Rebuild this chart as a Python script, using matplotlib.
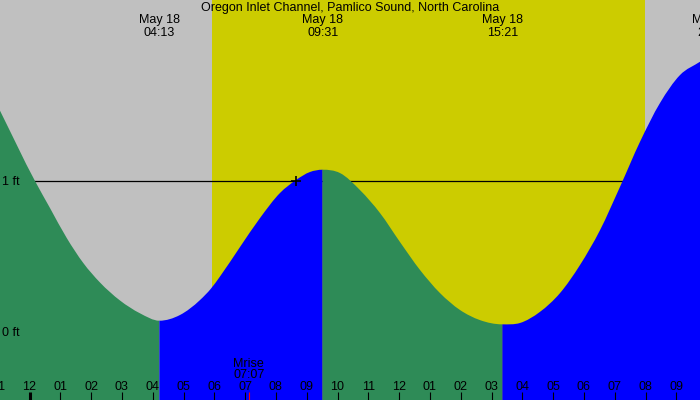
import numpy as np
import matplotlib
matplotlib.use("Agg")
import matplotlib.pyplot as plt
import matplotlib.transforms as mtransforms
from matplotlib.path import Path
from matplotlib.patches import PathPatch

plt.rcParams['font.family'] = ['Liberation Sans', 'DejaVu Sans']

# tide height (ft), time in hours from midnight May 18
tide_hours = [-0.958, 0.179, 0.666, 1.208, 1.747, 2.289, 2.938, 3.588, 4.217,
              4.886, 5.536, 5.893, 6.185, 6.834, 7.484, 8.133, 8.653, 9.107,
              9.517, 10.081, 10.731, 11.380, 12.029, 12.679, 13.328, 13.977,
              14.627, 15.350, 15.925, 16.575, 17.224, 17.873, 18.523, 19.172,
              19.821, 20.471, 21.120, 21.769]
tide_ft = [1.466, 1.000, 0.821, 0.623, 0.457, 0.328, 0.209, 0.124, 0.075,
           0.113, 0.212, 0.288, 0.368, 0.563, 0.755, 0.921, 1.007, 1.060,
           1.075, 1.053, 0.940, 0.788, 0.596, 0.411, 0.258, 0.146,
           0.079, 0.051, 0.060, 0.134, 0.258, 0.444, 0.675, 0.962,
           1.260, 1.517, 1.702, 1.790]

# high / low events
event_hours = [4.217, 9.517, 15.350, 22.183]
event_types = ['L', 'H', 'L', 'H']
event_times = ['04:13', '09:31', '15:21', '22:11']
event_date = 'May 18'

sunrise, sunset = 5.925, 19.984
moonrise, moonrise_label = 7.117, '07:07'
marker_hour, marker_ft = 8.653, 1.0

tick_hours = list(range(-1, 22))
ref_levels = [0, 1]

xmin, xmax = -0.958, 21.769
ymin, ymax = -0.450, 2.199

GRAY = '#c0c0c0'
YELLOW = '#cccc00'
GREEN = '#2e8b57'
BLUE = '#0000ff'

t = np.array(tide_hours)
h = np.array(tide_ft)

# slopes for smooth bezier drawing, flat at highs and lows
slope = np.gradient(h, t)
for eh in event_hours:
    slope[np.isclose(t, eh)] = 0.0


def water_patch(i0, i1, color):
    verts = [(t[i0], ymin - 1), (t[i0], h[i0])]
    codes = [Path.MOVETO, Path.LINETO]
    for i in range(i0, i1):
        dt = t[i + 1] - t[i]
        verts += [(t[i] + dt / 3, h[i] + slope[i] * dt / 3),
                  (t[i + 1] - dt / 3, h[i + 1] - slope[i + 1] * dt / 3),
                  (t[i + 1], h[i + 1])]
        codes += [Path.CURVE4] * 3
    verts += [(t[i1], ymin - 1), (t[i0], ymin - 1)]
    codes += [Path.LINETO, Path.CLOSEPOLY]
    return PathPatch(Path(verts, codes), facecolor=color, lw=0, zorder=3)


fig = plt.figure(figsize=(7, 4), dpi=100)
ax = fig.add_axes([0, 0, 1, 1])
ax.set_xlim(xmin, xmax)
ax.set_ylim(ymin, ymax)
ax.axis('off')
fig.patch.set_facecolor(GRAY)

ax.axvspan(xmin - 1, xmax + 1, color=GRAY, zorder=0)
ax.axvspan(sunrise, sunset, color=YELLOW, lw=0, zorder=1)

# 1 ft line sits behind the water
ax.axhline(1.0, color='black', lw=0.9, zorder=2)

# falling = green, rising = blue
i0 = 0
for eh, et in zip(event_hours, event_types):
    idx = np.where(t <= eh + 1e-9)[0]
    i1 = idx[-1]
    if i1 > i0:
        ax.add_patch(water_patch(i0, i1, GREEN if et == 'L' else BLUE))
    i0 = i1

ax.plot([marker_hour], [marker_ft], marker='+', color='black',
        markersize=7, mew=1.2, zorder=5)

trans = mtransforms.blended_transform_factory(ax.transData, ax.transAxes)

ax.text(0.5, 1 - 11 / 400, 'Oregon Inlet Channel, Pamlico Sound, North Carolina',
        transform=ax.transAxes, ha='center', va='baseline', fontsize=9, zorder=6)
for eh, tm in zip(event_hours, event_times):
    ax.text(eh, 1 - 23.5 / 400, event_date, transform=trans, ha='center',
            va='baseline', fontsize=9, zorder=6)
    ax.text(eh, 1 - 36 / 400, tm, transform=trans, ha='center',
            va='baseline', fontsize=9, zorder=6)

for lv in ref_levels:
    ax.text(xmin + 0.08, lv - 4 / 151, f'{lv} ft', ha='left', va='baseline',
            fontsize=9, zorder=6)

for th in tick_hours:
    lab = f'{(th % 12) or 12:02d}'
    ax.text(th, 1 - 389.5 / 400, lab, transform=trans, ha='center',
            va='baseline', fontsize=9, zorder=6)
    ax.plot([th, th], [0, 8 / 400], transform=trans, color='black',
            lw=2.2 if th == 0 else 0.8, solid_capstyle='butt', zorder=6)

ax.plot([moonrise, moonrise], [0, 8 / 400], transform=trans, color='red',
        lw=0.8, solid_capstyle='butt', zorder=6)
ax.text(moonrise, 1 - 366.7 / 400, 'Mrise', transform=trans, ha='center',
        va='baseline', fontsize=9, zorder=6)
ax.text(moonrise, 1 - 377.7 / 400, moonrise_label, transform=trans, ha='center',
        va='baseline', fontsize=9, zorder=6)

fig.savefig('out.png', dpi=100, facecolor=GRAY)
